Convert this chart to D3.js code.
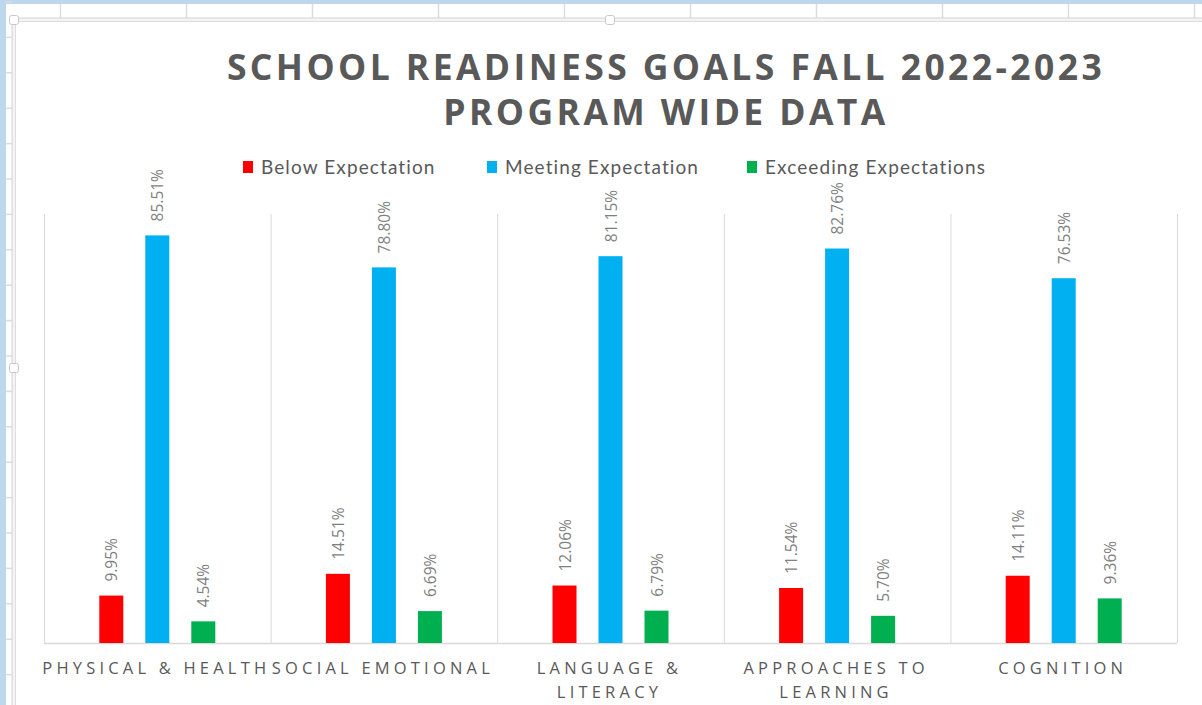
<!DOCTYPE html>
<html><head><meta charset="utf-8">
<script src="https://cdn.jsdelivr.net/npm/d3@7"></script>
<style>
html,body{margin:0;padding:0;background:#fff;overflow:hidden}
svg{display:block}
</style></head>
<body><svg id="c" width="1202" height="705"></svg>
<script>
const categories = ["PHYSICAL & HEALTH","SOCIAL EMOTIONAL","LANGUAGE & LITERACY","APPROACHES TO LEARNING","COGNITION"];
const seriesNames = ["Below Expectation","Meeting Expectation","Exceeding Expectations"];
const below = [9.95,14.51,12.06,11.54,14.11];
const meeting = [85.51,78.80,81.15,82.76,76.53];
const exceeding = [4.54,6.69,6.79,5.70,9.36];
const titleLines = ["SCHOOL READINESS GOALS FALL 2022-2023","PROGRAM WIDE DATA"];
const colors = ["#ff0000","#00b0f0","#00b050"];
const seriesValues = [below, meeting, exceeding];

const svg = d3.select("#c");
const W = 1202, H = 705;

// spreadsheet background
svg.append("rect").attr("width",W).attr("height",H).attr("fill","#ffffff");
svg.append("rect").attr("x",0).attr("y",0).attr("width",W).attr("height",4).attr("fill","#bdd7ee");
svg.append("rect").attr("x",0).attr("y",0).attr("width",6).attr("height",H).attr("fill","#bdd7ee");
const colX = d3.range(60, W, 126);
svg.selectAll(".gv").data(colX).join("line")
  .attr("x1",d=>d+0.5).attr("x2",d=>d+0.5).attr("y1",4).attr("y2",18)
  .attr("stroke","#dcdcdc").attr("stroke-width",1.5);
const rowY = d3.range(1.5, H, 35.4);
svg.selectAll(".gh").data(rowY).join("line")
  .attr("x1",6).attr("x2",12).attr("y1",d=>d+0.5).attr("y2",d=>d+0.5)
  .attr("stroke","#dcdcdc").attr("stroke-width",1.5);
// chart frame
svg.append("rect").attr("x",12).attr("y",18).attr("width",W).attr("height",H)
  .attr("fill","#f4f4f4").attr("stroke","#d4d4d4").attr("stroke-width",1);
svg.append("rect").attr("x",15.5).attr("y",21.5).attr("width",W).attr("height",H)
  .attr("fill","#ffffff").attr("stroke","#dedede").attr("stroke-width",1);
// handles
[[14,20],[610,20],[14,368]].forEach(([hx,hy])=>{
  svg.append("rect").attr("x",hx-4.5).attr("y",hy-4.5).attr("width",9).attr("height",9).attr("rx",2)
    .attr("fill","#fff").attr("stroke","#c8c8c8");
});

// title
const title = svg.append("text").attr("text-anchor","middle")
  .attr("font-family","Open Sans").attr("font-weight","bold").attr("font-size",35.5)
  .attr("letter-spacing","3.4px").attr("fill","#595959");
titleLines.forEach((t,i)=>title.append("tspan").attr("x",666).attr("y",80+i*45).text(t));

// legend
const legX = [243,487,747];
const leg = svg.append("g");
seriesNames.forEach((n,i)=>{
  leg.append("rect").attr("x",legX[i]).attr("y",161).attr("width",10).attr("height",12).attr("fill",colors[i]);
  leg.append("text").attr("x",legX[i]+18).attr("y",174).attr("font-family","Lato").attr("font-size",19)
    .attr("letter-spacing","1.1px").attr("fill","#595959").text(n);
});

// scales
const x = d3.scaleBand().domain(categories).range([44,1177]).padding(0);
const xs = d3.scalePoint().domain(seriesNames).range([-46,46]);
const y = d3.scaleLinear().domain([0,90]).range([643,214]);
const barW = 24;

// separators
const bounds = categories.map(c=>x(c)).concat([x.range()[1]]);
svg.selectAll(".sep").data(bounds).join("line")
  .attr("x1",d=>d+0.5).attr("x2",d=>d+0.5).attr("y1",y(90)).attr("y2",y(0))
  .attr("stroke","#d9d9d9").attr("stroke-width",1);
svg.append("line").attr("x1",x.range()[0]).attr("x2",x.range()[1]).attr("y1",y(0)+0.5).attr("y2",y(0)+0.5)
  .attr("stroke","#d9d9d9").attr("stroke-width",1.5);

// bars
const data = [];
categories.forEach((c,ci)=>seriesNames.forEach((s,si)=>data.push({c,s,si,v:seriesValues[si][ci]})));
svg.selectAll(".bar").data(data).join("rect")
  .attr("x",d=>x(d.c)+x.bandwidth()/2+xs(d.s)-barW/2)
  .attr("y",d=>y(d.v)).attr("width",barW).attr("height",d=>y(0)-y(d.v))
  .attr("fill",d=>colors[d.si]);
svg.selectAll(".lbl").data(data).join("text")
  .attr("transform",d=>`translate(${x(d.c)+x.bandwidth()/2+xs(d.s)},${y(d.v)-14}) rotate(-90)`)
  .attr("dominant-baseline","central").attr("font-family","Open Sans").attr("font-size",15.5)
  .attr("fill","#7f7f7f").text(d=>d.v.toFixed(2)+"%");

// category labels with wrapping
const cat = svg.append("g");
categories.forEach(c=>{
  const t = cat.append("text").attr("text-anchor","middle").attr("font-family","Open Sans")
    .attr("font-size",16.5).attr("letter-spacing","4.2px").attr("fill","#595959");
  const cx = x(c)+x.bandwidth()/2;
  const words = c.split(" ");
  let line = [], lines = [];
  const probe = t.append("tspan");
  words.forEach(w=>{
    const test = line.concat([w]).join(" ");
    probe.text(test);
    if (probe.node().getComputedTextLength() > 240 && line.length) { lines.push(line.join(" ")); line=[w]; }
    else line.push(w);
  });
  lines.push(line.join(" "));
  probe.remove();
  lines.forEach((l,i)=>t.append("tspan").attr("x",cx-1).attr("y",674+i*23.5).text(l));
});
</script></body></html>
